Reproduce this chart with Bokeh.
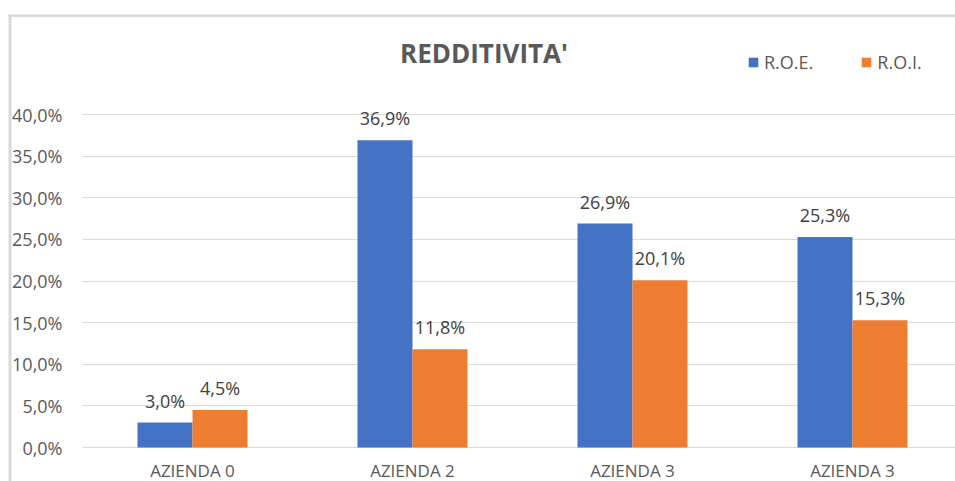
from bokeh.plotting import figure
from bokeh.models import (ColumnDataSource, FixedTicker, Legend, LegendItem, Label,
                          LabelSet, BoxAnnotation, Range1d, Grid)
from bokeh.transform import dodge
from bokeh.core.properties import value
from bokeh.embed import file_html
from bokeh.resources import INLINE

# ---- data ----
companies = ["AZIENDA 0", "AZIENDA 2", "AZIENDA 3", "AZIENDA 3"]
roe = [3.0, 36.9, 26.9, 25.3]
roi = [4.5, 11.8, 20.1, 15.3]
y_ticks = [0, 5, 10, 15, 20, 25, 30, 35, 40]
y_tick_labels = ["0,0%", "5,0%", "10,0%", "15,0%", "20,0%", "25,0%", "30,0%", "35,0%", "40,0%"]
series_names = ["R.O.E.", "R.O.I."]
title_text = "REDDITIVITA'"


def fmt(v):
    return f"{v:.1f}".replace(".", ",") + "%"


# ---- layout constants (pixels) ----
W, H = 955, 481
PLOT_LEFT, PLOT_TOP, PLOT_BOTTOM = 82, 114, 447   # plot area in the picture
CAT_W = 220                                        # px per category band
Y_MAX = 40
px_per_unit = (PLOT_BOTTOM - PLOT_TOP) / Y_MAX

x_start = -0.5 - PLOT_LEFT / CAT_W
x_end = -0.5 + (W - PLOT_LEFT) / CAT_W
y_start = -(H - PLOT_BOTTOM) / px_per_unit
y_end = PLOT_BOTTOM / px_per_unit

xs = list(range(len(companies)))
source = ColumnDataSource(dict(
    x=xs, zero=[0] * len(xs), name=companies, roe=roe, roi=roi,
    roe_lbl=[fmt(v) for v in roe], roi_lbl=[fmt(v) for v in roi],
))
tick_source = ColumnDataSource(dict(y=y_ticks, lbl=y_tick_labels))

BLUE = "#4472C4"
ORANGE = "#ED7D31"
GRID = "#d9d9d9"
TXT = "#595959"
FONT = "Open Sans"

p = figure(width=W, height=H,
           x_range=Range1d(x_start, x_end), y_range=Range1d(y_start, y_end),
           output_backend="svg", toolbar_location=None,
           x_axis_location=None, y_axis_location=None,
           min_border=0)
p.outline_line_color = None
p.background_fill_color = "white"
p.border_fill_color = "white"
p.grid.visible = False

p.add_layout(Grid(dimension=1, ticker=FixedTicker(ticks=y_ticks),
                  cross_bounds=(-0.5, x_end),
                  grid_line_color=GRID, grid_line_width=1))

r1 = p.vbar(x=dodge("x", -0.125, range=p.x_range), top="roe", width=0.25,
            source=source, fill_color=BLUE, line_color=None)
r2 = p.vbar(x=dodge("x", 0.125, range=p.x_range), top="roi", width=0.25,
            source=source, fill_color=ORANGE, line_color=None)

for col, lbl, off in (("roe", "roe_lbl", -0.125), ("roi", "roi_lbl", 0.125)):
    p.add_layout(LabelSet(x=dodge("x", off, range=p.x_range), y=col, text=lbl, source=source,
                          text_align="center", text_baseline="alphabetic", y_offset=15,
                          text_font=value(FONT), text_font_size=value("18px"),
                          text_color="#404040"))

# category labels under the axis
p.add_layout(LabelSet(x="x", y="zero", text="name", source=source,
                      text_align="center", text_baseline="alphabetic", y_offset=-29,
                      text_font=value(FONT), text_font_size=value("17px"), text_color=TXT))

# y tick labels
p.add_layout(LabelSet(x=PLOT_LEFT - 20, x_units="screen", y="y", text="lbl", source=tick_source,
                      text_align="right", text_baseline="middle",
                      text_font=value(FONT), text_font_size=value("18px"), text_color=TXT))

# title (screen units: from bottom-left)
p.add_layout(Label(x=483.5, y=H - 52, x_units="screen", y_units="screen", text=title_text,
                   text_align="center", text_baseline="middle", text_font=FONT,
                   text_font_style="bold", text_font_size="26px", text_color=TXT))

# legend
legend = Legend(items=[LegendItem(label=series_names[0], renderers=[r1]),
                       LegendItem(label=series_names[1], renderers=[r2])],
                orientation="horizontal", location=(747, H - 74),
                glyph_width=12, glyph_height=12, label_standoff=5, label_height=20,
                spacing=47, padding=0, margin=0, border_line_color=None,
                background_fill_alpha=0, label_text_font=FONT,
                label_text_font_size="18px", label_text_color=TXT)
p.add_layout(legend)

# chart border (top and left edge visible)
p.add_layout(BoxAnnotation(left=8, right=W, top=H - 14, bottom=H - 16.5,
                           left_units="screen", right_units="screen",
                           top_units="screen", bottom_units="screen",
                           fill_color=GRID, fill_alpha=1, line_color=None))
p.add_layout(BoxAnnotation(left=8, right=11, top=H - 14, bottom=0,
                           left_units="screen", right_units="screen",
                           top_units="screen", bottom_units="screen",
                           fill_color=GRID, fill_alpha=1, line_color=None))

open("out.html", "w").write(file_html(p, INLINE))
